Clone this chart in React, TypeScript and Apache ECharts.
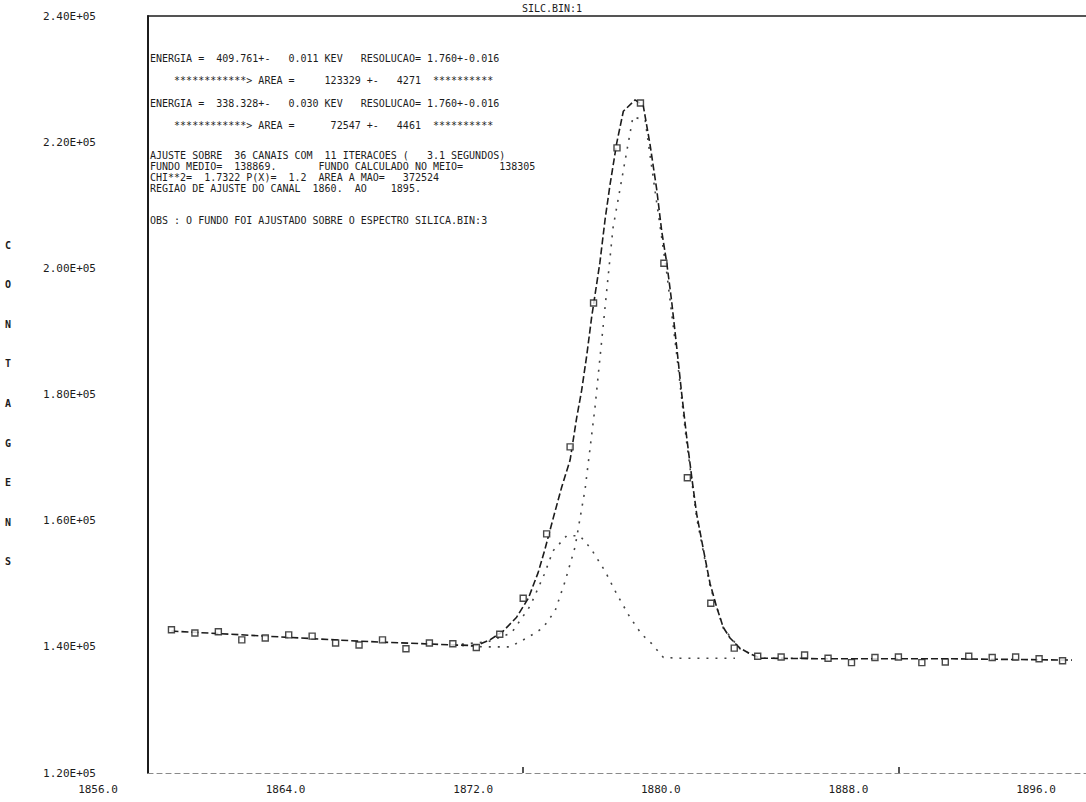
import React, { useEffect, useRef } from "react";
import * as echarts from "echarts";

// ---- measured spectrum (channel, counts) ----
const channels = [
  1857, 1858, 1859, 1860, 1861, 1862, 1863, 1864, 1865, 1866, 1867, 1868, 1869,
  1870, 1871, 1872, 1873, 1874, 1875, 1876, 1877, 1878, 1879, 1880, 1881, 1882,
  1883, 1884, 1885, 1886, 1887, 1888, 1889, 1890, 1891, 1892, 1893, 1894, 1895,
];
const counts = [
  142700, 142200, 142400, 141100, 141400, 141900, 141700, 140600, 140300, 141100,
  139700, 140600, 140500, 139900, 142000, 147700, 157900, 171700, 194500, 219100,
  226200, 200800, 166800, 146900, 139800, 138500, 138400, 138700, 138200, 137500,
  138300, 138400, 137500, 137600, 138500, 138300, 138400, 138100, 137800,
];

// ---- total fit curve ----
const fitChannels = [
  1857, 1861, 1865, 1869, 1870.0, 1870.58, 1871.15, 1871.72, 1872.22, 1872.64,
  1872.93, 1873.28, 1873.64, 1874.0, 1874.28, 1874.49, 1874.71, 1874.92, 1875.27,
  1875.49, 1875.7, 1875.99, 1876.27, 1876.77, 1877.12, 1877.41, 1877.69, 1877.91,
  1878.12, 1878.33, 1878.55, 1878.76, 1878.97, 1879.19, 1879.4, 1879.68, 1879.97,
  1880.25, 1880.53, 1880.82, 1881.24, 1881.67, 1882.1, 1885.2, 1890.3, 1895.4,
];
const fitCounts = [
  142500, 141700, 140900, 140300, 140200, 141100, 142500, 144700, 147700, 151800,
  155500, 160400, 165300, 169600, 176300, 180600, 186200, 192300, 200900,
  207700, 213200, 219900, 224900, 226700, 225800, 219600, 212600, 205800,
  200900, 194800, 187400, 180100, 173300, 166800, 161000, 155500, 150000,
  146300, 143100, 141400, 139800, 138900, 138200, 138100, 138100, 137900,
];

// ---- component 1 (409.761 keV) ----
const peak1Channels = [
  1869.0, 1870.3, 1871.44, 1872.25, 1872.84, 1873.36, 1873.78, 1874.21, 1874.64,
  1875.06, 1875.83, 1876.68, 1877.2, 1877.69, 1878.12, 1878.55, 1878.97, 1879.4,
  1879.97, 1880.53, 1881.24, 1882.1, 1884.0,
];
const peak1Counts = [
  140300, 140000, 140000, 141600, 143000, 145700, 150300, 155800, 165000,
  177900, 206400, 224000, 223500, 210500, 199300, 186200, 172400, 160400,
  149600, 143000, 139700, 138200, 138200,
];

// ---- component 2 (338.328 keV) ----
const peak2Channels = [
  1869.0, 1870.5, 1871.5, 1872.3, 1872.9, 1873.27, 1873.85, 1874.42, 1874.9,
  1875.49, 1876.0, 1876.55, 1877.05, 1877.48, 1877.98, 1878.69, 1879.45, 1881.03,
];
const peak2Counts = [
  140300, 140800, 142200, 146500, 151500, 155200, 157600, 157600, 155500,
  152000, 148300, 144700, 142000, 140500, 138300, 138200, 138200, 138200,
];

// ---- axes ----
const xMin = 1856;
const xMax = 1896;
const xStep = 8;
const xTickMarks = [1872, 1888];
const yMin = 120000;
const yMax = 240000;
const yStep = 20000;
const yAxisTitle = "CONTAGENS";
const titleText = "SILC.BIN:1";

// ---- printed fit report ----
const peakReportLines = [
  "ENERGIA =  409.761+-   0.011 KEV   RESOLUCAO= 1.760+-0.016",
  "    ************> AREA =     123329 +-   4271  **********",
  "ENERGIA =  338.328+-   0.030 KEV   RESOLUCAO= 1.760+-0.016",
  "    ************> AREA =      72547 +-   4461  **********",
];
const fitReportLines = [
  "AJUSTE SOBRE  36 CANAIS COM  11 ITERACOES (   3.1 SEGUNDOS)",
  "FUNDO MEDIO=  138869.       FUNDO CALCULADO NO MEIO=      138305",
  "CHI**2=  1.7322 P(X)=  1.2  AREA A MAO=   372524",
  "REGIAO DE AJUSTE DO CANAL  1860.  AO    1895.",
];
const obsLine = "OBS : O FUNDO FOI AJUSTADO SOBRE O ESPECTRO SILICA.BIN:3";

const MONO = '"DejaVu Sans Mono", "Liberation Mono", monospace';
const INK = "#1c1c1c";

export default function App() {
  const ref = useRef<HTMLDivElement>(null);

  useEffect(() => {
    if (!ref.current) return;
    const chart = echarts.init(ref.current, undefined, { renderer: "svg" });

    const pairs = (xs: number[], ys: number[]) => xs.map((x, i) => [x, ys[i]]);

    const texts: any[] = [];
    const peakYs = [58, 80, 103, 125];
    peakReportLines.forEach((t, i) =>
      texts.push({
        type: "text",
        x: 150,
        y: peakYs[i],
        style: { text: t, font: `10px ${MONO}`, fill: INK, textVerticalAlign: "middle" },
      })
    );
    fitReportLines.forEach((t, i) =>
      texts.push({
        type: "text",
        x: 150,
        y: 155 + i * 11,
        style: { text: t, font: `10px ${MONO}`, fill: INK, textVerticalAlign: "middle" },
      })
    );
    texts.push({
      type: "text",
      x: 150,
      y: 220,
      style: { text: obsLine, font: `10px ${MONO}`, fill: INK, textVerticalAlign: "middle" },
    });
    texts.push({
      type: "text",
      x: 552,
      y: 8,
      style: {
        text: titleText,
        font: `10px ${MONO}`,
        fill: INK,
        textAlign: "center",
        textVerticalAlign: "middle",
      },
    });
    yAxisTitle.split("").forEach((ch, i) =>
      texts.push({
        type: "text",
        x: 8,
        y: 245 + i * 39.6,
        style: {
          text: ch,
          font: `bold 10px ${MONO}`,
          fill: INK,
          textAlign: "center",
          textVerticalAlign: "middle",
        },
      })
    );

    chart.setOption({
      animation: false,
      backgroundColor: "#ffffff",
      grid: { left: 148, right: 0, top: 16, bottom: 29, containLabel: false },
      xAxis: [
        {
          type: "value",
          position: "bottom",
          min: xMin,
          max: xMax,
          interval: xStep,
          splitLine: { show: false },
          axisLine: { show: true, lineStyle: { color: "#8a8a8a", width: 1.2, type: [5, 4] } },
          axisTick: {
            show: true,
            inside: true,
            length: 6,
            customValues: xTickMarks,
            lineStyle: { color: INK, width: 1.5 },
          },
          axisLabel: {
            show: true,
            showMaxLabel: true,
            showMinLabel: true,
            margin: 11,
            fontFamily: MONO,
            fontSize: 11,
            color: INK,
            padding: [0, 100, 0, 0],
            formatter: (v: number) => v.toFixed(1),
          },
        },
        {
          type: "value",
          position: "top",
          min: xMin,
          max: xMax,
          interval: xStep,
          splitLine: { show: false },
          axisLine: { show: true, lineStyle: { color: INK, width: 1.6 } },
          axisTick: { show: false },
          axisLabel: { show: false },
        },
      ],
      yAxis: {
        type: "value",
        min: yMin,
        max: yMax,
        interval: yStep,
        splitLine: { show: false },
        axisLine: { show: true, lineStyle: { color: INK, width: 2 } },
        axisTick: { show: false },
        axisLabel: {
          margin: 52,
          fontFamily: MONO,
          fontSize: 11,
          color: INK,
          formatter: (v: number) => (v / 1e5).toFixed(2) + "E+05",
        },
      },
      graphic: { elements: texts },
      series: [
        {
          name: "Pico 2",
          type: "line",
          data: pairs(peak2Channels, peak2Counts),
          showSymbol: false,
          symbol: "none",
          lineStyle: { color: "#444", width: 1.6, type: [2, 7] },
          z: 2,
        },
        {
          name: "Pico 1",
          type: "line",
          data: pairs(peak1Channels, peak1Counts),
          showSymbol: false,
          symbol: "none",
          lineStyle: { color: "#444", width: 1.6, type: [2, 7] },
          z: 2,
        },
        {
          name: "Ajuste",
          type: "line",
          data: pairs(fitChannels, fitCounts),
          showSymbol: false,
          symbol: "none",
          lineStyle: { color: INK, width: 1.6, type: [7, 3] },
          z: 3,
        },
        {
          name: "Contagens",
          type: "scatter",
          data: pairs(channels, counts),
          symbol: "rect",
          symbolSize: 6,
          itemStyle: { color: "#ffffff", borderColor: INK, borderWidth: 1.4 },
          z: 4,
        },
      ],
    });

    return () => chart.dispose();
  }, []);

  return (
    <div
      ref={ref}
      style={{
        position: "fixed",
        left: 0,
        top: 0,
        width: 1086,
        height: 802,
        background: "#ffffff",
      }}
    />
  );
}
